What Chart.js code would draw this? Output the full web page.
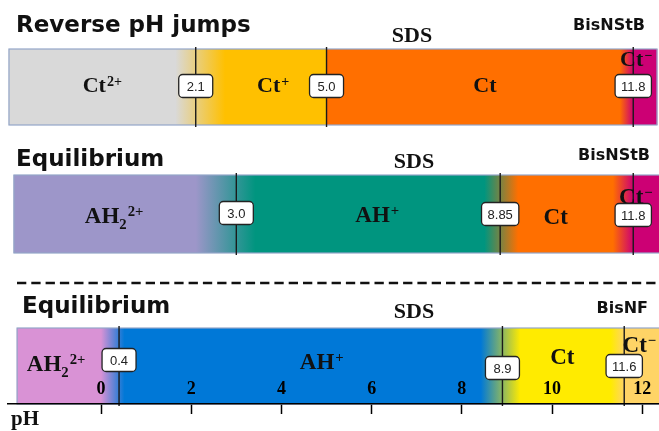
<!DOCTYPE html>
<html>
<head>
<meta charset="utf-8">
<script src="https://cdn.jsdelivr.net/npm/chart.js@4.4.1/dist/chart.umd.min.js"></script>
<style>
  html, body { margin: 0; padding: 0; background: #fff; overflow: hidden; }
  #wrap { position: relative; width: 659px; height: 431px; }
  #wrap canvas { position: absolute; left: 0; top: 0; }
</style>
</head>
<body>
<div id="wrap">
  <canvas id="jumps" width="659" height="431"></canvas>
  <canvas id="eqStb" width="659" height="431"></canvas>
  <canvas id="eqNf" width="659" height="431"></canvas>
</div>
<script>
// ---- pH axis ----
const phTicks = [0, 2, 4, 6, 8, 10, 12];
const phMin = -2.062;
const phMax = 12.371;

// ---- Reverse pH jumps: BisNStB in SDS ----
const jumpSpecies = ['Ct^2+', 'Ct^+', 'Ct', 'Ct^−'];
const jumpPKa = [2.1, 5.0, 11.8];
const jumpSpan = [-2.04, 12.326];

// ---- Equilibrium: BisNStB in SDS ----
const stbSpecies = ['AH_2^2+', 'AH^+', 'Ct', 'Ct^−'];
const stbPKa = [3.0, 8.85, 11.8];
const stbSpan = [-1.93, 12.45];

// ---- Equilibrium: BisNF in SDS ----
const nfSpecies = ['AH_2^2+', 'AH^+', 'Ct', 'Ct^−'];
const nfPKa = [0.4, 8.9, 11.6];
const nfSpan = [-1.86, 12.45];

// Panel appearance
const panels = [
  {
    canvas: 'jumps', title: 'Reverse pH jumps', medium: 'SDS', compound: 'BisNStB',
    species: jumpSpecies, pKa: jumpPKa, span: jumpSpan,
    colors: ['#d9d9d9', '#ffc000', '#ff6f00', '#cc0074'],
    blend: [[0.45, 0.65], [0, 0], [0.3, 0]],
    barTop: 49, barBottom: 125,
    titleX: 16, titleY: 32, mediumX: 412, mediumY: 42, compoundX: 645, compoundY: 30,
    labelSize: 22, labelDx: [0, 12, 5, -9], labelDy: [-2, -2, -2.5, -28],
    boxDy: [-1, -1, -1], axis: false, separator: false
  },
  {
    canvas: 'eqStb', title: 'Equilibrium', medium: 'SDS', compound: 'BisNStB',
    species: stbSpecies, pKa: stbPKa, span: stbSpan,
    colors: ['#9d96c9', '#00957f', '#ff6f00', '#cc0074'],
    blend: [[0.9, 0.42], [0.35, 0.4], [0.45, 0]],
    barTop: 175, barBottom: 253,
    titleX: 16, titleY: 166, mediumX: 414, mediumY: 168, compoundX: 650, compoundY: 160,
    labelSize: 23, labelDx: [-11, 9, -11, -12], labelDy: [1, 0, 2.5, -18],
    boxDy: [-1, 0, 1], axis: false, separator: false
  },
  {
    canvas: 'eqNf', title: 'Equilibrium', medium: 'SDS', compound: 'BisNF',
    species: nfSpecies, pKa: nfPKa, span: nfSpan,
    colors: ['#d992d5', '#0078d7', '#ffeb00', '#ffd466'],
    blend: [[0.4, 0.12], [0.48, 0.4], [0.3, 0]],
    barTop: 328, barBottom: 404,
    titleX: 22, titleY: 313, mediumX: 414, mediumY: 318, compoundX: 648, compoundY: 313,
    labelSize: 23, labelDx: [-12, 11, -1, -4], labelDy: [-3, -5, -9.5, -22],
    boxDy: [-6, 2, 0], axis: true, separator: true
  }
];

const W = 659, H = 431;

function pKaText(v) {
  return v.toFixed(Math.round(v * 100) % 10 !== 0 ? 2 : 1);
}

// One gradient spanning the whole row so that adjacent segments blend into each other
function rowFill(chart, p) {
  const xs = chart.scales.x;
  const a = p.span[0], b = p.span[1];
  const g = chart.ctx.createLinearGradient(xs.getPixelForValue(a), 0, xs.getPixelForValue(b), 0);
  const f = v => Math.min(1, Math.max(0, (v - a) / (b - a)));
  g.addColorStop(0, p.colors[0]);
  p.pKa.forEach((pk, i) => {
    const [before, after] = p.blend[i];
    g.addColorStop(f(pk - before), p.colors[i]);
    g.addColorStop(f(pk + after), p.colors[i + 1]);
  });
  g.addColorStop(1, p.colors[p.colors.length - 1]);
  return g;
}

// Species name with optional subscript (_x) and superscript (^xx)
function drawSpecies(ctx, spec, cx, capMid, size) {
  const m = spec.match(/^([^_^]+)(?:_(.))?(?:\^(.+))?$/);
  const base = m[1], sub = m[2], sup = m[3];
  const small = size * 0.64;
  const fBase = `bold ${size}px "Liberation Serif"`;
  const fSmall = `bold ${small}px "Liberation Serif"`;
  ctx.font = fBase;
  const wb = ctx.measureText(base).width;
  ctx.font = fSmall;
  const wsub = sub ? ctx.measureText(sub).width : 0;
  const wsup = sup ? ctx.measureText(sup).width + 1 : 0;
  let x = cx - (wb + wsub + wsup) / 2;
  const baseline = capMid + size * 0.33;
  ctx.fillStyle = '#111';
  ctx.textAlign = 'left';
  ctx.textBaseline = 'alphabetic';
  ctx.font = fBase;
  ctx.fillText(base, x, baseline);
  x += wb;
  ctx.font = fSmall;
  if (sub) { ctx.fillText(sub, x, baseline + size * 0.28); x += wsub; }
  if (sup) { ctx.fillText(sup, x + 1, baseline - size * 0.3); }
}

function roundRectPath(ctx, x, y, w, h, r) {
  ctx.beginPath();
  ctx.moveTo(x + r, y);
  ctx.arcTo(x + w, y, x + w, y + h, r);
  ctx.arcTo(x + w, y + h, x, y + h, r);
  ctx.arcTo(x, y + h, x, y, r);
  ctx.arcTo(x, y, x + w, y, r);
  ctx.closePath();
}

function drawValueBox(ctx, text, cx, cy) {
  ctx.font = '13px "Liberation Sans"';
  const w = Math.max(ctx.measureText(text).width + 12, 34);
  const h = 23;
  roundRectPath(ctx, cx - w / 2, cy - h / 2, w, h, 4);
  ctx.fillStyle = '#fff';
  ctx.fill();
  ctx.lineWidth = 1.3;
  ctx.strokeStyle = '#222';
  ctx.stroke();
  ctx.fillStyle = '#222';
  ctx.textAlign = 'center';
  ctx.textBaseline = 'middle';
  ctx.fillText(text, cx, cy + 1);
}

function overlay(p) {
  return {
    id: 'overlay-' + p.canvas,
    afterDatasetsDraw(chart) {
      const ctx = chart.ctx;
      const xs = chart.scales.x;
      const x0 = xs.getPixelForValue(p.span[0]);
      const x1 = Math.min(xs.getPixelForValue(p.span[1]), W + 2);
      ctx.save();
      // row frame
      ctx.strokeStyle = '#93a6c8';
      ctx.lineWidth = 1.2;
      ctx.strokeRect(x0, p.barTop, x1 - x0, p.barBottom - p.barTop);
      // pKa lines
      ctx.strokeStyle = '#1a1a1a';
      ctx.lineWidth = 1.4;
      p.pKa.forEach(pk => {
        const x = xs.getPixelForValue(pk);
        ctx.beginPath();
        ctx.moveTo(x, p.barTop - 2);
        ctx.lineTo(x, p.barBottom + 2);
        ctx.stroke();
      });
      ctx.restore();
    },
    afterDraw(chart) {
      const ctx = chart.ctx;
      const xs = chart.scales.x;
      const mid = (p.barTop + p.barBottom) / 2;
      ctx.save();
      // separator above the last panel
      if (p.separator) {
        ctx.strokeStyle = '#111';
        ctx.lineWidth = 2.5;
        ctx.setLineDash([9.3, 5]);
        ctx.beginPath();
        ctx.moveTo(17, 283);
        ctx.lineTo(W, 283);
        ctx.stroke();
        ctx.setLineDash([]);
      }
      // headings
      ctx.fillStyle = '#111';
      ctx.textBaseline = 'alphabetic';
      ctx.textAlign = 'left';
      ctx.font = 'bold 23px "DejaVu Sans"';
      ctx.fillText(p.title, p.titleX, p.titleY);
      ctx.textAlign = 'center';
      ctx.font = 'bold 22px "Liberation Serif"';
      ctx.fillText(p.medium, p.mediumX, p.mediumY);
      ctx.textAlign = 'right';
      ctx.font = 'bold 16px "DejaVu Sans"';
      ctx.fillText(p.compound, p.compoundX, p.compoundY);
      // species names, centred in their pH range
      const bounds = [p.span[0], ...p.pKa, p.span[1]];
      p.species.forEach((s, i) => {
        const cx = xs.getPixelForValue((bounds[i] + bounds[i + 1]) / 2) + p.labelDx[i];
        drawSpecies(ctx, s, cx, mid + p.labelDy[i], p.labelSize);
      });
      // pKa value boxes
      p.pKa.forEach((pk, i) => {
        drawValueBox(ctx, pKaText(pk), xs.getPixelForValue(pk), mid + p.boxDy[i]);
      });
      // axis name
      if (p.axis) {
        ctx.fillStyle = '#111';
        ctx.textAlign = 'left';
        ctx.textBaseline = 'alphabetic';
        ctx.font = 'bold 21px "Liberation Serif"';
        ctx.fillText('pH', 11, 425);
      }
      ctx.restore();
    }
  };
}

panels.forEach(p => {
  const bounds = [p.span[0], ...p.pKa, p.span[1]];
  const datasets = p.species.map((s, i) => ({
    label: s,
    data: [[bounds[i], bounds[i + 1]]],
    backgroundColor: c => c.chart.chartArea ? rowFill(c.chart, p) : p.colors[i],
    borderWidth: 0,
    borderSkipped: false,
    grouped: false,
    categoryPercentage: 1,
    barPercentage: 1
  }));

  const xAxis = {
    type: 'linear',
    min: phMin,
    max: phMax,
    display: p.axis,
    afterBuildTicks: axis => { axis.ticks = phTicks.map(v => ({ value: v })); },
    ticks: {
      mirror: true,
      padding: 4,
      z: 1,
      color: '#000',
      font: { family: '"Liberation Serif"', size: 18, weight: 'bold' }
    },
    grid: {
      display: true,
      drawOnChartArea: false,
      drawTicks: true,
      tickLength: 10,
      tickWidth: 1.5,
      tickColor: '#000'
    },
    border: { display: true, color: '#000', width: 1.5, z: 1 }
  };
  if (p.axis) xAxis.afterFit = axis => { axis.height = H - p.barBottom; };

  new Chart(document.getElementById(p.canvas), {
    type: 'bar',
    data: { labels: [''], datasets },
    options: {
      indexAxis: 'y',
      responsive: false,
      animation: false,
      events: [],
      layout: {
        padding: { left: 8, right: 0, top: p.barTop, bottom: p.axis ? 0 : H - p.barBottom }
      },
      plugins: { legend: { display: false }, tooltip: { enabled: false } },
      scales: {
        x: xAxis,
        y: { display: false }
      }
    },
    plugins: [overlay(p)]
  });
});
</script>
</body>
</html>
